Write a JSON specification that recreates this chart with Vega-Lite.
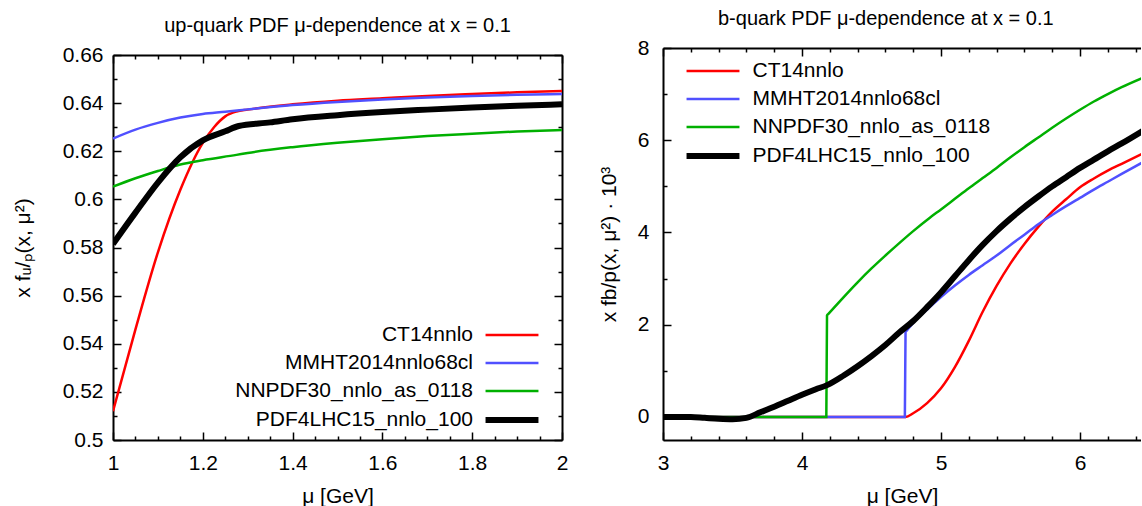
{
  "$schema": "https://vega.github.io/schema/vega-lite/v6.json",
  "padding": {"left": 12, "top": 9, "right": 0, "bottom": 0},
  "bounds": "flush",
  "spacing": 101,
  "resolve": {"scale": {"color": "independent"}, "legend": {"color": "independent"}},
  "config": {
    "font": "Liberation Sans",
    "view": {"stroke": null},
    "axis": {
      "grid": false,
      "domainColor": "black",
      "domainWidth": 2,
      "tickColor": "black",
      "tickWidth": 1.5,
      "labelColor": "black",
      "labelFont": "Liberation Sans",
      "labelFontSize": 21,
      "labelFlush": false,
      "labelOverlap": false,
      "titleFont": "Liberation Sans",
      "titleFontSize": 21,
      "titleFontWeight": "normal",
      "titleColor": "black",
      "minExtent": 0
    },
    "legend": {
      "symbolType": "M-5,0H5",
      "symbolSize": 112,
      "labelFont": "Liberation Sans",
      "labelFontSize": 21,
      "labelColor": "black",
      "labelLimit": 0,
      "rowPadding": 6,
      "padding": 0
    }
  },
  "datasets": {
    "up": [
      {"pdf": "CT14nnlo", "mu": 1.0, "v": 0.512},
      {"pdf": "CT14nnlo", "mu": 1.05, "v": 0.546},
      {"pdf": "CT14nnlo", "mu": 1.1, "v": 0.578},
      {"pdf": "CT14nnlo", "mu": 1.15, "v": 0.604},
      {"pdf": "CT14nnlo", "mu": 1.2, "v": 0.6235},
      {"pdf": "CT14nnlo", "mu": 1.225, "v": 0.63},
      {"pdf": "CT14nnlo", "mu": 1.25, "v": 0.6345},
      {"pdf": "CT14nnlo", "mu": 1.275, "v": 0.6365},
      {"pdf": "CT14nnlo", "mu": 1.3, "v": 0.6373},
      {"pdf": "CT14nnlo", "mu": 1.4, "v": 0.6395},
      {"pdf": "CT14nnlo", "mu": 1.5, "v": 0.641},
      {"pdf": "CT14nnlo", "mu": 1.6, "v": 0.642},
      {"pdf": "CT14nnlo", "mu": 1.7, "v": 0.643},
      {"pdf": "CT14nnlo", "mu": 1.8, "v": 0.6438},
      {"pdf": "CT14nnlo", "mu": 1.9, "v": 0.6445},
      {"pdf": "CT14nnlo", "mu": 2.0, "v": 0.645},
      {"pdf": "MMHT2014nnlo68cl", "mu": 1.0, "v": 0.6253},
      {"pdf": "MMHT2014nnlo68cl", "mu": 1.05, "v": 0.629},
      {"pdf": "MMHT2014nnlo68cl", "mu": 1.1, "v": 0.6318},
      {"pdf": "MMHT2014nnlo68cl", "mu": 1.15, "v": 0.634},
      {"pdf": "MMHT2014nnlo68cl", "mu": 1.2, "v": 0.6355},
      {"pdf": "MMHT2014nnlo68cl", "mu": 1.25, "v": 0.6364},
      {"pdf": "MMHT2014nnlo68cl", "mu": 1.3, "v": 0.6374},
      {"pdf": "MMHT2014nnlo68cl", "mu": 1.4, "v": 0.6392},
      {"pdf": "MMHT2014nnlo68cl", "mu": 1.5, "v": 0.6405},
      {"pdf": "MMHT2014nnlo68cl", "mu": 1.6, "v": 0.6415},
      {"pdf": "MMHT2014nnlo68cl", "mu": 1.7, "v": 0.6423},
      {"pdf": "MMHT2014nnlo68cl", "mu": 1.8, "v": 0.643},
      {"pdf": "MMHT2014nnlo68cl", "mu": 1.9, "v": 0.6435},
      {"pdf": "MMHT2014nnlo68cl", "mu": 2.0, "v": 0.6438},
      {"pdf": "NNPDF30_nnlo_as_0118", "mu": 1.0, "v": 0.6053},
      {"pdf": "NNPDF30_nnlo_as_0118", "mu": 1.05, "v": 0.6088},
      {"pdf": "NNPDF30_nnlo_as_0118", "mu": 1.1, "v": 0.6118},
      {"pdf": "NNPDF30_nnlo_as_0118", "mu": 1.15, "v": 0.6145},
      {"pdf": "NNPDF30_nnlo_as_0118", "mu": 1.2, "v": 0.6163},
      {"pdf": "NNPDF30_nnlo_as_0118", "mu": 1.275, "v": 0.6185},
      {"pdf": "NNPDF30_nnlo_as_0118", "mu": 1.3, "v": 0.6193},
      {"pdf": "NNPDF30_nnlo_as_0118", "mu": 1.4, "v": 0.6217},
      {"pdf": "NNPDF30_nnlo_as_0118", "mu": 1.5, "v": 0.6235},
      {"pdf": "NNPDF30_nnlo_as_0118", "mu": 1.6, "v": 0.625},
      {"pdf": "NNPDF30_nnlo_as_0118", "mu": 1.7, "v": 0.6263},
      {"pdf": "NNPDF30_nnlo_as_0118", "mu": 1.8, "v": 0.6273},
      {"pdf": "NNPDF30_nnlo_as_0118", "mu": 1.9, "v": 0.6282},
      {"pdf": "NNPDF30_nnlo_as_0118", "mu": 2.0, "v": 0.6288},
      {"pdf": "PDF4LHC15_nnlo_100", "mu": 1.0, "v": 0.5815},
      {"pdf": "PDF4LHC15_nnlo_100", "mu": 1.05, "v": 0.5945},
      {"pdf": "PDF4LHC15_nnlo_100", "mu": 1.1, "v": 0.607},
      {"pdf": "PDF4LHC15_nnlo_100", "mu": 1.15, "v": 0.6175},
      {"pdf": "PDF4LHC15_nnlo_100", "mu": 1.2, "v": 0.6245},
      {"pdf": "PDF4LHC15_nnlo_100", "mu": 1.25, "v": 0.6283},
      {"pdf": "PDF4LHC15_nnlo_100", "mu": 1.28, "v": 0.6305},
      {"pdf": "PDF4LHC15_nnlo_100", "mu": 1.35, "v": 0.632},
      {"pdf": "PDF4LHC15_nnlo_100", "mu": 1.4, "v": 0.6333},
      {"pdf": "PDF4LHC15_nnlo_100", "mu": 1.5, "v": 0.635},
      {"pdf": "PDF4LHC15_nnlo_100", "mu": 1.6, "v": 0.6363},
      {"pdf": "PDF4LHC15_nnlo_100", "mu": 1.7, "v": 0.6373},
      {"pdf": "PDF4LHC15_nnlo_100", "mu": 1.8, "v": 0.6382},
      {"pdf": "PDF4LHC15_nnlo_100", "mu": 1.9, "v": 0.6389},
      {"pdf": "PDF4LHC15_nnlo_100", "mu": 2.0, "v": 0.6395}
    ],
    "b": [
      {"pdf": "CT14nnlo", "mu": 3.0, "v": 0},
      {"pdf": "CT14nnlo", "mu": 4.745, "v": 0},
      {"pdf": "CT14nnlo", "mu": 4.8, "v": 0.08},
      {"pdf": "CT14nnlo", "mu": 4.9, "v": 0.3},
      {"pdf": "CT14nnlo", "mu": 5.0, "v": 0.62},
      {"pdf": "CT14nnlo", "mu": 5.1, "v": 1.08},
      {"pdf": "CT14nnlo", "mu": 5.2, "v": 1.65},
      {"pdf": "CT14nnlo", "mu": 5.3, "v": 2.28},
      {"pdf": "CT14nnlo", "mu": 5.4, "v": 2.84},
      {"pdf": "CT14nnlo", "mu": 5.5, "v": 3.33},
      {"pdf": "CT14nnlo", "mu": 5.6, "v": 3.75},
      {"pdf": "CT14nnlo", "mu": 5.7, "v": 4.12},
      {"pdf": "CT14nnlo", "mu": 5.8, "v": 4.45},
      {"pdf": "CT14nnlo", "mu": 5.9, "v": 4.72},
      {"pdf": "CT14nnlo", "mu": 6.0, "v": 4.98},
      {"pdf": "CT14nnlo", "mu": 6.1, "v": 5.17},
      {"pdf": "CT14nnlo", "mu": 6.2, "v": 5.34},
      {"pdf": "CT14nnlo", "mu": 6.3, "v": 5.49},
      {"pdf": "CT14nnlo", "mu": 6.45, "v": 5.71},
      {"pdf": "MMHT2014nnlo68cl", "mu": 3.0, "v": 0},
      {"pdf": "MMHT2014nnlo68cl", "mu": 4.74, "v": 0},
      {"pdf": "MMHT2014nnlo68cl", "mu": 4.745, "v": 1.84},
      {"pdf": "MMHT2014nnlo68cl", "mu": 4.755, "v": 1.877},
      {"pdf": "MMHT2014nnlo68cl", "mu": 4.8, "v": 2.04},
      {"pdf": "MMHT2014nnlo68cl", "mu": 4.9, "v": 2.33},
      {"pdf": "MMHT2014nnlo68cl", "mu": 5.0, "v": 2.6},
      {"pdf": "MMHT2014nnlo68cl", "mu": 5.1, "v": 2.85},
      {"pdf": "MMHT2014nnlo68cl", "mu": 5.2, "v": 3.08},
      {"pdf": "MMHT2014nnlo68cl", "mu": 5.3, "v": 3.29},
      {"pdf": "MMHT2014nnlo68cl", "mu": 5.4, "v": 3.5},
      {"pdf": "MMHT2014nnlo68cl", "mu": 5.5, "v": 3.73},
      {"pdf": "MMHT2014nnlo68cl", "mu": 5.6, "v": 3.95},
      {"pdf": "MMHT2014nnlo68cl", "mu": 5.7, "v": 4.18},
      {"pdf": "MMHT2014nnlo68cl", "mu": 5.8, "v": 4.38},
      {"pdf": "MMHT2014nnlo68cl", "mu": 5.9, "v": 4.57},
      {"pdf": "MMHT2014nnlo68cl", "mu": 6.0, "v": 4.75},
      {"pdf": "MMHT2014nnlo68cl", "mu": 6.1, "v": 4.93},
      {"pdf": "MMHT2014nnlo68cl", "mu": 6.2, "v": 5.1},
      {"pdf": "MMHT2014nnlo68cl", "mu": 6.3, "v": 5.27},
      {"pdf": "MMHT2014nnlo68cl", "mu": 6.45, "v": 5.52},
      {"pdf": "NNPDF30_nnlo_as_0118", "mu": 3.0, "v": 0},
      {"pdf": "NNPDF30_nnlo_as_0118", "mu": 4.175, "v": 0},
      {"pdf": "NNPDF30_nnlo_as_0118", "mu": 4.18, "v": 2.2},
      {"pdf": "NNPDF30_nnlo_as_0118", "mu": 4.19, "v": 2.234},
      {"pdf": "NNPDF30_nnlo_as_0118", "mu": 4.3, "v": 2.6},
      {"pdf": "NNPDF30_nnlo_as_0118", "mu": 4.4, "v": 2.92},
      {"pdf": "NNPDF30_nnlo_as_0118", "mu": 4.5, "v": 3.22},
      {"pdf": "NNPDF30_nnlo_as_0118", "mu": 4.6, "v": 3.5},
      {"pdf": "NNPDF30_nnlo_as_0118", "mu": 4.7, "v": 3.77},
      {"pdf": "NNPDF30_nnlo_as_0118", "mu": 4.8, "v": 4.03},
      {"pdf": "NNPDF30_nnlo_as_0118", "mu": 4.92, "v": 4.32},
      {"pdf": "NNPDF30_nnlo_as_0118", "mu": 5.0, "v": 4.5},
      {"pdf": "NNPDF30_nnlo_as_0118", "mu": 5.1, "v": 4.73},
      {"pdf": "NNPDF30_nnlo_as_0118", "mu": 5.2, "v": 4.96},
      {"pdf": "NNPDF30_nnlo_as_0118", "mu": 5.3, "v": 5.18},
      {"pdf": "NNPDF30_nnlo_as_0118", "mu": 5.4, "v": 5.4},
      {"pdf": "NNPDF30_nnlo_as_0118", "mu": 5.5, "v": 5.63},
      {"pdf": "NNPDF30_nnlo_as_0118", "mu": 5.6, "v": 5.85},
      {"pdf": "NNPDF30_nnlo_as_0118", "mu": 5.7, "v": 6.06},
      {"pdf": "NNPDF30_nnlo_as_0118", "mu": 5.8, "v": 6.27},
      {"pdf": "NNPDF30_nnlo_as_0118", "mu": 5.9, "v": 6.47},
      {"pdf": "NNPDF30_nnlo_as_0118", "mu": 6.0, "v": 6.66},
      {"pdf": "NNPDF30_nnlo_as_0118", "mu": 6.1, "v": 6.84},
      {"pdf": "NNPDF30_nnlo_as_0118", "mu": 6.2, "v": 7.0},
      {"pdf": "NNPDF30_nnlo_as_0118", "mu": 6.3, "v": 7.15},
      {"pdf": "NNPDF30_nnlo_as_0118", "mu": 6.45, "v": 7.35},
      {"pdf": "PDF4LHC15_nnlo_100", "mu": 3.0, "v": 0},
      {"pdf": "PDF4LHC15_nnlo_100", "mu": 3.2, "v": 0},
      {"pdf": "PDF4LHC15_nnlo_100", "mu": 3.3, "v": -0.02},
      {"pdf": "PDF4LHC15_nnlo_100", "mu": 3.4, "v": -0.04},
      {"pdf": "PDF4LHC15_nnlo_100", "mu": 3.5, "v": -0.05},
      {"pdf": "PDF4LHC15_nnlo_100", "mu": 3.6, "v": -0.02},
      {"pdf": "PDF4LHC15_nnlo_100", "mu": 3.7, "v": 0.1},
      {"pdf": "PDF4LHC15_nnlo_100", "mu": 3.8, "v": 0.22},
      {"pdf": "PDF4LHC15_nnlo_100", "mu": 3.9, "v": 0.35},
      {"pdf": "PDF4LHC15_nnlo_100", "mu": 4.0, "v": 0.48},
      {"pdf": "PDF4LHC15_nnlo_100", "mu": 4.1, "v": 0.6},
      {"pdf": "PDF4LHC15_nnlo_100", "mu": 4.18, "v": 0.69},
      {"pdf": "PDF4LHC15_nnlo_100", "mu": 4.3, "v": 0.9},
      {"pdf": "PDF4LHC15_nnlo_100", "mu": 4.4, "v": 1.1},
      {"pdf": "PDF4LHC15_nnlo_100", "mu": 4.5, "v": 1.32},
      {"pdf": "PDF4LHC15_nnlo_100", "mu": 4.6, "v": 1.56},
      {"pdf": "PDF4LHC15_nnlo_100", "mu": 4.7, "v": 1.83},
      {"pdf": "PDF4LHC15_nnlo_100", "mu": 4.8, "v": 2.08},
      {"pdf": "PDF4LHC15_nnlo_100", "mu": 4.9, "v": 2.38},
      {"pdf": "PDF4LHC15_nnlo_100", "mu": 5.0, "v": 2.7},
      {"pdf": "PDF4LHC15_nnlo_100", "mu": 5.1, "v": 3.05},
      {"pdf": "PDF4LHC15_nnlo_100", "mu": 5.2, "v": 3.4},
      {"pdf": "PDF4LHC15_nnlo_100", "mu": 5.3, "v": 3.73},
      {"pdf": "PDF4LHC15_nnlo_100", "mu": 5.4, "v": 4.03},
      {"pdf": "PDF4LHC15_nnlo_100", "mu": 5.5, "v": 4.3},
      {"pdf": "PDF4LHC15_nnlo_100", "mu": 5.6, "v": 4.55},
      {"pdf": "PDF4LHC15_nnlo_100", "mu": 5.7, "v": 4.78},
      {"pdf": "PDF4LHC15_nnlo_100", "mu": 5.8, "v": 5.0},
      {"pdf": "PDF4LHC15_nnlo_100", "mu": 5.9, "v": 5.2},
      {"pdf": "PDF4LHC15_nnlo_100", "mu": 6.0, "v": 5.4},
      {"pdf": "PDF4LHC15_nnlo_100", "mu": 6.1, "v": 5.58},
      {"pdf": "PDF4LHC15_nnlo_100", "mu": 6.2, "v": 5.76},
      {"pdf": "PDF4LHC15_nnlo_100", "mu": 6.3, "v": 5.93},
      {"pdf": "PDF4LHC15_nnlo_100", "mu": 6.45, "v": 6.2}
    ]
  },
  "hconcat": [
    {
      "width": 449,
      "height": 392,
      "title": {"text": "up-quark PDF μ-dependence at x = 0.1", "font": "Liberation Sans", "fontSize": 20, "fontWeight": "normal", "color": "black", "anchor": "middle", "frame": "group", "baseline": "alphabetic", "offset": -8},
      "data": {"name": "up"},
      "layer": [
        {
          "mark": {"type": "line", "clip": true, "interpolate": "monotone"},
          "encoding": {
            "x": {"field": "mu", "type": "quantitative", "scale": {"domain": [1, 2], "nice": false, "zero": false},
              "axis": {"orient": "bottom", "title": "μ [GeV]", "values": [1,1.05,1.1,1.15,1.2,1.25,1.3,1.35,1.4,1.45,1.5,1.55,1.6,1.65,1.7,1.75,1.8,1.85,1.9,1.95,2],
                "labelExpr": "abs(datum.value*5-round(datum.value*5))<0.001 ? format(datum.value,'~g') : ''",
                "tickSize": {"condition": {"test": "abs(datum.value*5-round(datum.value*5))<0.001", "value": -8}, "value": -4},
                "labelPadding": 20, "titlePadding": 8}},
            "y": {"field": "v", "type": "quantitative", "scale": {"domain": [0.5, 0.66], "range": [392, 7], "nice": false, "zero": false},
              "axis": {"orient": "left", "title": "x fᵤ/ₚ(x, μ²)", "values": [0.5,0.51,0.52,0.53,0.54,0.55,0.56,0.57,0.58,0.59,0.6,0.61,0.62,0.63,0.64,0.65,0.66],
                "labelExpr": "abs(datum.value*50-round(datum.value*50))<0.001 ? format(datum.value,'~g') : ''",
                "tickSize": {"condition": {"test": "abs(datum.value*50-round(datum.value*50))<0.001", "value": -8}, "value": -4},
                "labelPadding": 18, "titlePadding": 29}},
            "color": {"field": "pdf", "type": "nominal",
              "scale": {"domain": ["CT14nnlo", "MMHT2014nnlo68cl", "NNPDF30_nnlo_as_0118", "PDF4LHC15_nnlo_100"], "range": ["#ff0000", "#5050ff", "#00b000", "#000000"]},
              "legend": {"title": null, "orient": "none", "legendX": 388.5, "legendY": 276.5, "labelAlign": "right", "labelOffset": -49.5,
                "encode": {"symbols": {"update": {"strokeWidth": {"signal": "datum.value === 'PDF4LHC15_nnlo_100' ? 6 : 2.5"}}}}}},
            "strokeWidth": {"condition": {"test": "datum.pdf === 'PDF4LHC15_nnlo_100'", "value": 6}, "value": 2.5}
          }
        },
        {
          "mark": {"type": "line", "opacity": 0},
          "encoding": {
            "x": {"field": "mu", "type": "quantitative",
              "axis": {"orient": "top", "title": null, "labels": false, "offset": -7, "values": [1,1.05,1.1,1.15,1.2,1.25,1.3,1.35,1.4,1.45,1.5,1.55,1.6,1.65,1.7,1.75,1.8,1.85,1.9,1.95,2],
                "tickSize": {"condition": {"test": "abs(datum.value*5-round(datum.value*5))<0.001", "value": -8}, "value": -4}}},
            "y": {"field": "v", "type": "quantitative",
              "axis": {"orient": "right", "title": null, "labels": false, "values": [0.5,0.51,0.52,0.53,0.54,0.55,0.56,0.57,0.58,0.59,0.6,0.61,0.62,0.63,0.64,0.65,0.66],
                "tickSize": {"condition": {"test": "abs(datum.value*50-round(datum.value*50))<0.001", "value": -8}, "value": -4}}},
            "detail": {"field": "pdf"}
          }
        }
      ],
      "resolve": {"axis": {"x": "independent", "y": "independent"}}
    },
    {
      "width": 478,
      "height": 392,
      "title": {"text": "b-quark PDF μ-dependence at x = 0.1", "font": "Liberation Sans", "fontSize": 20, "fontWeight": "normal", "color": "black", "anchor": "start", "frame": "group", "dx": 55, "baseline": "alphabetic", "offset": -8},
      "data": {"name": "b"},
      "layer": [
        {
          "mark": {"type": "line", "clip": true, "interpolate": "monotone"},
          "encoding": {
            "x": {"field": "mu", "type": "quantitative", "scale": {"domain": [3, 6.439], "nice": false, "zero": false},
              "axis": {"orient": "bottom", "title": "μ [GeV]", "values": [3,3.2,3.4,3.6,3.8,4,4.2,4.4,4.6,4.8,5,5.2,5.4,5.6,5.8,6,6.2,6.4],
                "labelExpr": "abs(datum.value-round(datum.value))<0.001 ? format(datum.value,'~g') : ''",
                "tickSize": {"condition": {"test": "abs(datum.value-round(datum.value))<0.001", "value": -8}, "value": -4},
                "labelPadding": 20, "titlePadding": 8}},
            "y": {"field": "v", "type": "quantitative", "scale": {"domain": [-0.5, 8], "nice": false, "zero": false},
              "axis": {"orient": "left", "title": "x fb/p(x, μ²) · 10³", "values": [0,1,2,3,4,5,6,7,8],
                "labelExpr": "datum.value % 2 == 0 ? format(datum.value,'~g') : ''",
                "tickSize": {"condition": {"test": "datum.value % 2 == 0", "value": -8}, "value": -4},
                "labelPadding": 22, "titlePadding": 18}},
            "color": {"field": "pdf", "type": "nominal",
              "scale": {"domain": ["CT14nnlo", "MMHT2014nnlo68cl", "NNPDF30_nnlo_as_0118", "PDF4LHC15_nnlo_100"], "range": ["#ff0000", "#5050ff", "#00b000", "#000000"]},
              "legend": {"title": null, "orient": "none", "legendX": 39.5, "legendY": 12.5, "labelAlign": "left", "labelOffset": 29,
                "encode": {"symbols": {"update": {"strokeWidth": {"signal": "datum.value === 'PDF4LHC15_nnlo_100' ? 6 : 2.5"}}}}}},
            "strokeWidth": {"condition": {"test": "datum.pdf === 'PDF4LHC15_nnlo_100'", "value": 6}, "value": 2.5}
          }
        },
        {
          "mark": {"type": "line", "opacity": 0, "clip": true},
          "encoding": {
            "x": {"field": "mu", "type": "quantitative",
              "axis": {"orient": "top", "title": null, "labels": false, "values": [3,3.2,3.4,3.6,3.8,4,4.2,4.4,4.6,4.8,5,5.2,5.4,5.6,5.8,6,6.2,6.4],
                "tickSize": {"condition": {"test": "abs(datum.value-round(datum.value))<0.001", "value": -8}, "value": -4}}},
            "y": {"field": "v", "type": "quantitative", "axis": null},
            "detail": {"field": "pdf"}
          }
        }
      ],
      "resolve": {"axis": {"x": "independent", "y": "independent"}}
    }
  ]
}
